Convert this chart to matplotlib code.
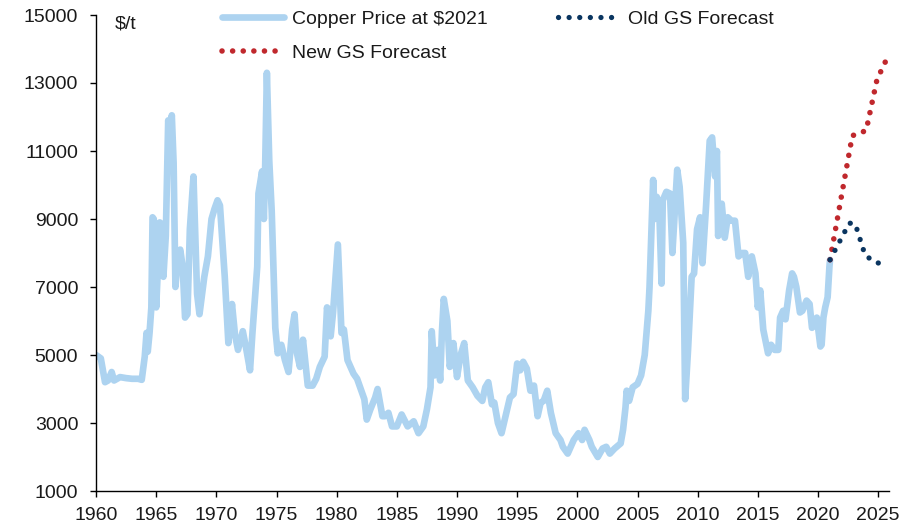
import numpy as np
import matplotlib
matplotlib.use("Agg")
import matplotlib.pyplot as plt

plt.rcParams['font.family'] = ['Liberation Sans', 'DejaVu Sans']

cu_year = [1960.0, 1960.4, 1960.75, 1961.0, 1961.3, 1961.5, 1962.0, 1962.5, 1963.0, 1963.5,
           1963.8, 1964.05, 1964.2, 1964.3, 1964.45, 1964.6, 1964.7, 1964.8, 1965.0, 1965.1,
           1965.3, 1965.4, 1965.5, 1965.6, 1965.8, 1966.0, 1966.15, 1966.3, 1966.45, 1966.6,
           1966.8, 1967.0, 1967.2, 1967.4, 1967.6, 1967.8, 1968.1, 1968.4, 1968.6, 1969.0,
           1969.3, 1969.6, 1969.85, 1970.1, 1970.3, 1970.7, 1971.0, 1971.3, 1971.55, 1971.8,
           1972.2, 1972.5, 1972.8, 1973.0, 1973.4, 1973.5, 1973.8, 1973.95, 1974.05, 1974.2,
           1974.4, 1974.6, 1974.9, 1975.1, 1975.4, 1975.7, 1976.0, 1976.3, 1976.5, 1976.7,
           1976.95, 1977.2, 1977.6, 1978.0, 1978.3, 1978.6, 1979.0, 1979.2, 1979.5, 1979.7,
           1980.1, 1980.4, 1980.6, 1980.9, 1981.4, 1981.7, 1982.1, 1982.3, 1982.5, 1982.8,
           1983.2, 1983.4, 1983.8, 1984.0, 1984.3, 1984.6, 1985.0, 1985.4, 1985.9, 1986.4,
           1986.8, 1987.2, 1987.5, 1987.8, 1987.9, 1988.15, 1988.4, 1988.6, 1988.75, 1988.9,
           1989.2, 1989.4, 1989.7, 1990.0, 1990.3, 1990.6, 1990.9, 1991.3, 1991.7, 1992.1,
           1992.35, 1992.6, 1992.9, 1993.1, 1993.4, 1993.7, 1994.0, 1994.4, 1994.7, 1995.0,
           1995.25, 1995.5, 1995.8, 1996.1, 1996.4, 1996.7, 1996.95, 1997.2, 1997.5, 1997.8,
           1998.2, 1998.6, 1998.8, 1999.2, 1999.7, 2000.1, 2000.4, 2000.6, 2001.0, 2001.2,
           2001.7, 2002.1, 2002.4, 2002.7, 2003.1, 2003.6, 2003.8, 2004.0, 2004.1, 2004.3,
           2004.6, 2005.0, 2005.3, 2005.6, 2005.9, 2006.0, 2006.3, 2006.45, 2006.6, 2006.8,
           2007.0, 2007.1, 2007.4, 2007.7, 2007.9, 2008.3, 2008.5, 2008.8, 2008.96, 2009.2,
           2009.5, 2009.7, 2009.95, 2010.2, 2010.4, 2010.7, 2011.0, 2011.2, 2011.45, 2011.6,
           2011.7, 2012.0, 2012.25, 2012.5, 2012.8, 2013.1, 2013.4, 2013.7, 2013.95, 2014.2,
           2014.5, 2014.8, 2015.0, 2015.2, 2015.45, 2015.85, 2016.1, 2016.4, 2016.7, 2016.85,
           2017.1, 2017.3, 2017.6, 2017.85, 2018.0, 2018.2, 2018.5, 2018.7, 2019.05, 2019.3,
           2019.5, 2019.7, 2019.9, 2020.2, 2020.3, 2020.45, 2020.6, 2020.8, 2020.95, 2021.0]
cu_price = [5000, 4900, 4200, 4250, 4500, 4250, 4350, 4320, 4300, 4300,
            4270, 4950, 5650, 5100, 5650, 6400, 9050, 9000, 6400, 7200,
            8900, 7500, 8850, 7300, 8500, 11900, 11500, 12050, 10650, 7000,
            7900, 8100, 7600, 6100, 6200, 8700, 10250, 6800, 6200, 7300,
            7900, 9000, 9300, 9550, 9400, 7300, 5350, 6500, 5600, 5150,
            5700, 5150, 4550, 5650, 7600, 9750, 10400, 9000, 10400, 13300,
            10700, 9250, 5800, 5050, 5300, 4850, 4500, 5750, 6200, 5050,
            4650, 5450, 4100, 4100, 4300, 4650, 4950, 6400, 5550, 6250,
            8250, 5650, 5750, 4850, 4450, 4300, 3900, 3700, 3100, 3400,
            3750, 4000, 3200, 3200, 3300, 2900, 2900, 3250, 2900, 3050,
            2700, 2900, 3400, 4050, 5700, 4400, 5150, 4250, 5700, 6650,
            6000, 4650, 5350, 4350, 5000, 5350, 4250, 4050, 3800, 3650,
            4050, 4200, 3550, 3600, 3000, 2700, 3150, 3750, 3850, 4750,
            4550, 4800, 4600, 3950, 4100, 3200, 3600, 3650, 3950, 3300,
            2700, 2500, 2300, 2100, 2500, 2700, 2500, 2800, 2500, 2300,
            2000, 2250, 2300, 2100, 2250, 2400, 2800, 3450, 3950, 3650,
            4050, 4150, 4400, 5000, 6300, 7000, 10150, 9000, 9650, 9350,
            7100, 9550, 9800, 9750, 8000, 10450, 9950, 8300, 3700, 5150,
            7300, 7400, 8700, 9050, 7700, 9400, 11300, 11400, 10250, 11000,
            8500, 9450, 8450, 9050, 8950, 8950, 7900, 8000, 8000, 7300,
            7900, 7400, 6400, 6900, 5750, 5050, 5300, 5150, 5150, 6100,
            6300, 6050, 6900, 7400, 7300, 7000, 6250, 6300, 6600, 6500,
            5800, 5900, 6100, 5250, 5300, 6100, 6400, 6700, 7600, 7800]

# forecasts
new_year = [2021.0, 2022.85, 2024.0, 2024.9, 2025.3, 2025.7]
new_price = [7800, 11450, 11600, 13100, 13400, 13700]
old_year = [2021.0, 2022.6, 2023.1, 2023.9, 2024.5, 2025.4]
old_price = [7800, 8880, 8850, 7950, 7780, 7650]

blue = '#ADD3F0'
red = '#C0282D'
navy = '#0A3560'
txt = '#1a1a1a'

fig = plt.figure(figsize=(9.1, 5.31), dpi=100)
ax = fig.add_axes([96/910, 1-491/531, (889-96)/910, (491-15)/531])

l_cu, = ax.plot(cu_year, cu_price, color=blue, lw=4.8, solid_joinstyle='round',
                solid_capstyle='round', label='Copper Price at $2021')
l_new, = ax.plot(new_year, new_price, color=red, lw=4.0, linestyle=(0, (0.01, 1.9)),
                 dash_capstyle='round', label='New GS Forecast')
l_old, = ax.plot(old_year, old_price, color=navy, lw=3.8, linestyle=(0, (0.01, 2.0)),
                 dash_capstyle='round', label='Old GS Forecast')

ax.set_xlim(1960, 2025.9)
ax.set_ylim(1000, 15000)
ax.set_xticks(np.arange(1960, 2026, 5))
ax.set_yticks(np.arange(1000, 15001, 2000))
ax.spines['top'].set_visible(False)
ax.spines['right'].set_visible(False)
for s in ['left', 'bottom']:
    ax.spines[s].set_linewidth(1.0)
ax.tick_params(axis='both', direction='out', length=4.3, width=1.0,
               labelsize=14, labelcolor=txt)
ax.tick_params(axis='y', pad=8.5)
ax.tick_params(axis='x', pad=7)

ax.text(115/910, 1-24/531, '$/t', transform=fig.transFigure, fontsize=14,
        color=txt, va='center', ha='left')

# 2 columns: copper + new in first column, old in second
leg = fig.legend(handles=[l_cu, l_new, l_old], ncol=2, loc='upper left',
                 bbox_to_anchor=(222/910, 1-10/531), frameon=False, fontsize=14,
                 handlelength=3.2, handletextpad=0.4, columnspacing=3.6,
                 labelspacing=0.85, borderpad=0, borderaxespad=0)
for t in leg.get_texts():
    t.set_color(txt)

fig.savefig('out.png', dpi=100)
